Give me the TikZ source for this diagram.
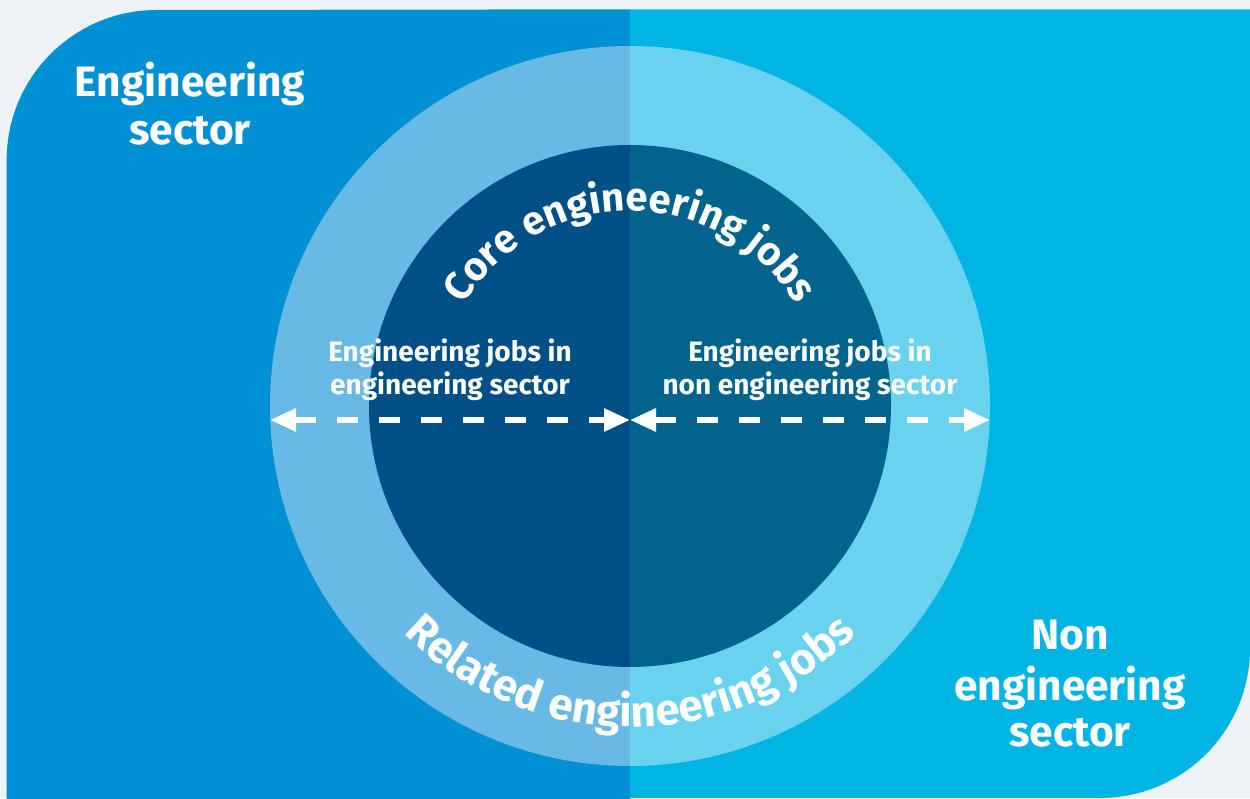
\documentclass[tikz,border=0pt]{standalone}
\usepackage{fontspec}
\setmainfont{Fira Sans}
\usetikzlibrary{arrows.meta,decorations.text}
\definecolor{bgpage}{HTML}{EEF3F7}
\definecolor{secleft}{HTML}{0091D5}
\definecolor{secright}{HTML}{00B4E4}
\definecolor{ringleft}{HTML}{68B9E5}
\definecolor{ringright}{HTML}{68D2EF}
\definecolor{coreleft}{HTML}{005087}
\definecolor{coreright}{HTML}{02648C}
\begin{document}
\begin{tikzpicture}[x=1pt,y=1pt,
  biglabel/.style={text=white, font=\fontsize{42.5pt}{48pt}\selectfont\bfseries, inner sep=0pt, anchor=base},
  midlabel/.style={text=white, font=\fontsize{28pt}{32pt}\selectfont\bfseries, inner sep=0pt, anchor=base},
  dasharrow/.style={white, line width=6pt, dash pattern=on 21pt off 21pt,
    {Triangle[length=26pt,width=22pt]}-{Triangle[length=26pt,width=22pt]}}]
\useasboundingbox (0,0) rectangle (1250,798);
\fill[bgpage] (0,0) rectangle (1250,798);

% the two sectors
\begin{scope}
  \clip (0,0) rectangle (1250,798);
  \fill[secleft] (6.7,-10) -- (6.7,638) arc[start angle=180,end angle=90,radius=150pt]
    -- (630,788.7) -- (630,-10) -- cycle;
  \fill[secright] (630,788.7) -- (1250,788.7) -- (1250,150)
    arc[start angle=0,end angle=-90,radius=150pt] -- (630,0) -- cycle;
\end{scope}

\coordinate (cc) at (630,392);

% left half of the rings
\begin{scope}
  \clip (200,0) rectangle (630,798);
  \fill[ringleft] (cc) circle[radius=360pt];
  \fill[coreleft] (cc) circle[radius=261pt];
\end{scope}
% right half of the rings
\begin{scope}
  \clip (630,0) rectangle (1050,798);
  \fill[ringright] (cc) circle[radius=360pt];
  \fill[coreright] (cc) circle[radius=261pt];
\end{scope}

% sector labels
\node[biglabel] (es1) at (190,701) {Engineering};
\node[biglabel] (es2) at (190,653) {sector};
\node[biglabel] (ns1) at (1070,148) {Non};
\node[biglabel] (ns2) at (1070,98) {engineering};
\node[biglabel] (ns3) at (1070,52) {sector};

% labels inside the core
\node[midlabel] (li1) at (450,436) {Engineering jobs in};
\node[midlabel] (li2) at (450,403) {engineering sector};
\node[midlabel] (ri1) at (810,436) {Engineering jobs in};
\node[midlabel] (ri2) at (810,403) {non engineering sector};

% dashed double arrows
\coordinate (lend) at (270,378);
\coordinate (mid) at (630,378);
\coordinate (rend) at (990,378);
\draw[dasharrow] (lend) -- (mid);
\draw[dasharrow] (mid) -- (rend);

% curved titles
\path[decorate, decoration={text along path, text align=center, text color=white,
  text={|\fontsize{40pt}{40pt}\selectfont\bfseries|Core engineering jobs}}]
  ([shift={(160:195pt)}]cc) arc[start angle=160,end angle=20,radius=195pt];
\path[decorate, decoration={text along path, text align=center, text color=white,
  text={|\fontsize{44pt}{44pt}\selectfont\bfseries|Related engineering jobs}}]
  ([shift={(-150:321pt)}]cc) arc[start angle=-150,end angle=-30,radius=321pt];
\end{tikzpicture}
\end{document}
